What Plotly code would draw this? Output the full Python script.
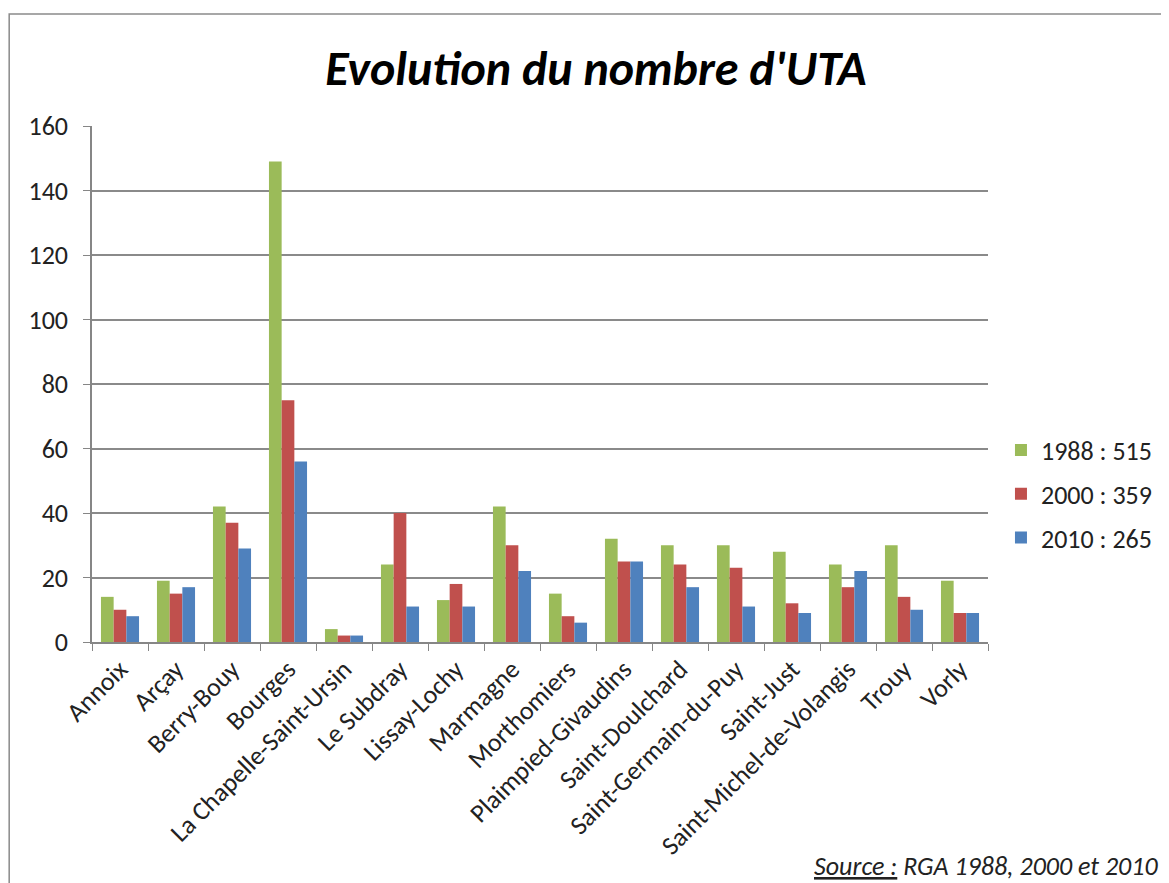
import plotly.graph_objects as go

communes = ["Annoix", "Arçay", "Berry-Bouy", "Bourges", "La Chapelle-Saint-Ursin",
            "Le Subdray", "Lissay-Lochy", "Marmagne", "Morthomiers", "Plaimpied-Givaudins",
            "Saint-Doulchard", "Saint-Germain-du-Puy", "Saint-Just",
            "Saint-Michel-de-Volangis", "Trouy", "Vorly"]
uta_1988 = [14, 19, 42, 149, 4, 24, 13, 42, 15, 32, 30, 30, 28, 24, 30, 19]
uta_2000 = [10, 15, 37, 75, 2, 40, 18, 30, 8, 25, 24, 23, 12, 17, 14, 9]
uta_2010 = [8, 17, 29, 56, 2, 11, 11, 22, 6, 25, 17, 11, 9, 22, 10, 9]
series_names = ["1988 : 515", "2000 : 359", "2010 : 265"]
colors = ["#9BBB59", "#C0504D", "#4F81BD"]

font_fam = "Carlito, Open Sans, Noto Sans, Liberation Sans, sans-serif"

fig = go.Figure()
for name, vals, col in zip(series_names, [uta_1988, uta_2000, uta_2010], colors):
    fig.add_trace(go.Bar(x=communes, y=vals, name=name, marker_color=col,
                         marker_line_width=0, legendgroup=name))

W, H = 1161, 875
L, T, PW, PH = 84, 118, 898, 516

fig.update_layout(
    width=W, height=H,
    paper_bgcolor="white", plot_bgcolor="white",
    margin=dict(l=L, r=W - L - PW, t=T, b=H - T - PH),
    barmode="group", bargap=0.32, bargroupgap=0,
    font=dict(family=font_fam, color="#222", size=26),
    title=dict(text="<b><i>Evolution du nombre d'UTA</i></b>",
               x=588 / W, xanchor="center", y=1 - 60 / H, yanchor="middle",
               font=dict(size=48, color="#000", family=font_fam)),
    legend=dict(x=(995 - L) / PW, xanchor="left", y=(T + PH - 486) / PH, yanchor="middle",
                font=dict(size=26), itemwidth=30, tracegroupgap=7,
                traceorder="grouped"),
    showlegend=True,
)
fig.update_xaxes(
    type="category", tickangle=-45, showline=True, linecolor="#868686", linewidth=1.5,
    ticks="outside", ticklen=7, tickcolor="#868686", tickson="boundaries",
    tickfont=dict(size=26), showgrid=False,
)
fig.update_yaxes(
    range=[0, 160], dtick=20, showline=True, linecolor="#868686", linewidth=1.5,
    ticks="outside", ticklen=7, tickcolor="#868686",
    showgrid=True, gridcolor="#8a8a8a", gridwidth=1.5, zeroline=False,
    tickfont=dict(size=26), ticklabelstandoff=10,
)

# outer chart frame
fig.add_shape(type="rect", xref="paper", yref="paper",
              x0=(1 - L) / PW, x1=(W + 10 - L) / PW,
              y0=-(H + 10 - T - PH) / PH, y1=(T + PH - 6) / PH,
              line=dict(color="#8a8a8a", width=1.5), layer="below")

fig.add_annotation(
    text="<i><u>Source :</u> RGA 1988, 2000 et 2010</i>",
    xref="paper", yref="paper", x=(1154 - L) / PW, xanchor="right",
    y=-(858 - T - PH) / PH, yanchor="middle", showarrow=False,
    font=dict(size=26, color="#222"),
)

fig.write_html("out.html")
